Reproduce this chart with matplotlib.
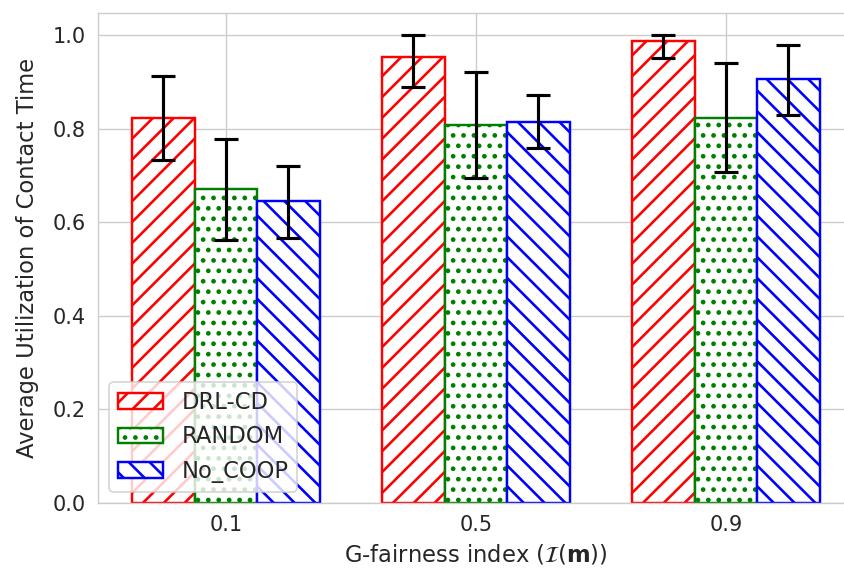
import matplotlib.pyplot as plt
import numpy as np
import seaborn as sns

sns.set_style("whitegrid")
plt.rcParams["hatch.linewidth"] = 1.5

groups = ["0.1", "0.5", "0.9"]
methods = ["DRL-CD", "RANDOM", "No_COOP"]
means = {
    "DRL-CD": [0.822, 0.952, 0.987],
    "RANDOM": [0.670, 0.807, 0.823],
    "No_COOP": [0.645, 0.815, 0.905],
}
err_low = {
    "DRL-CD": [0.090, 0.062, 0.037],
    "RANDOM": [0.108, 0.112, 0.116],
    "No_COOP": [0.078, 0.057, 0.075],
}
err_high = {
    "DRL-CD": [0.090, 0.048, 0.013],
    "RANDOM": [0.107, 0.115, 0.117],
    "No_COOP": [0.075, 0.057, 0.073],
}

colors = {"DRL-CD": "red", "RANDOM": "green", "No_COOP": "blue"}
hatches = {"DRL-CD": "//", "RANDOM": "..", "No_COOP": "\\\\"}

fig = plt.figure(figsize=(844 / 125, 572 / 125), dpi=125)
ax = fig.add_axes([0.116, 0.1206, 0.8957, 0.8566])

x = np.arange(len(groups))
width = 0.25
for i, m in enumerate(methods):
    ax.bar(
        x + (i - 1) * width,
        means[m],
        width=width,
        facecolor="white",
        edgecolor=colors[m],
        hatch=hatches[m],
        linewidth=1.4,
        label=m,
        yerr=[err_low[m], err_high[m]],
        capsize=7,
        error_kw={"elinewidth": 1.8, "capthick": 1.8, "ecolor": "black"},
    )

ax.set_xticks(x)
ax.set_xticklabels(groups, fontsize=12)
ax.tick_params(axis="y", labelsize=12)
ax.set_xlim(-0.512, 2.512)
ax.set_ylim(0, 1.047)
ax.set_xlabel(r"G-fairness index ($\mathcal{I}(\mathbf{m})$)", fontsize=13)
ax.set_ylabel("Average Utilization of Contact Time", fontsize=13, labelpad=8)
ax.set_axisbelow(True)
ax.legend(loc="lower left", fontsize=13)

fig.savefig("out.png", dpi=125)
